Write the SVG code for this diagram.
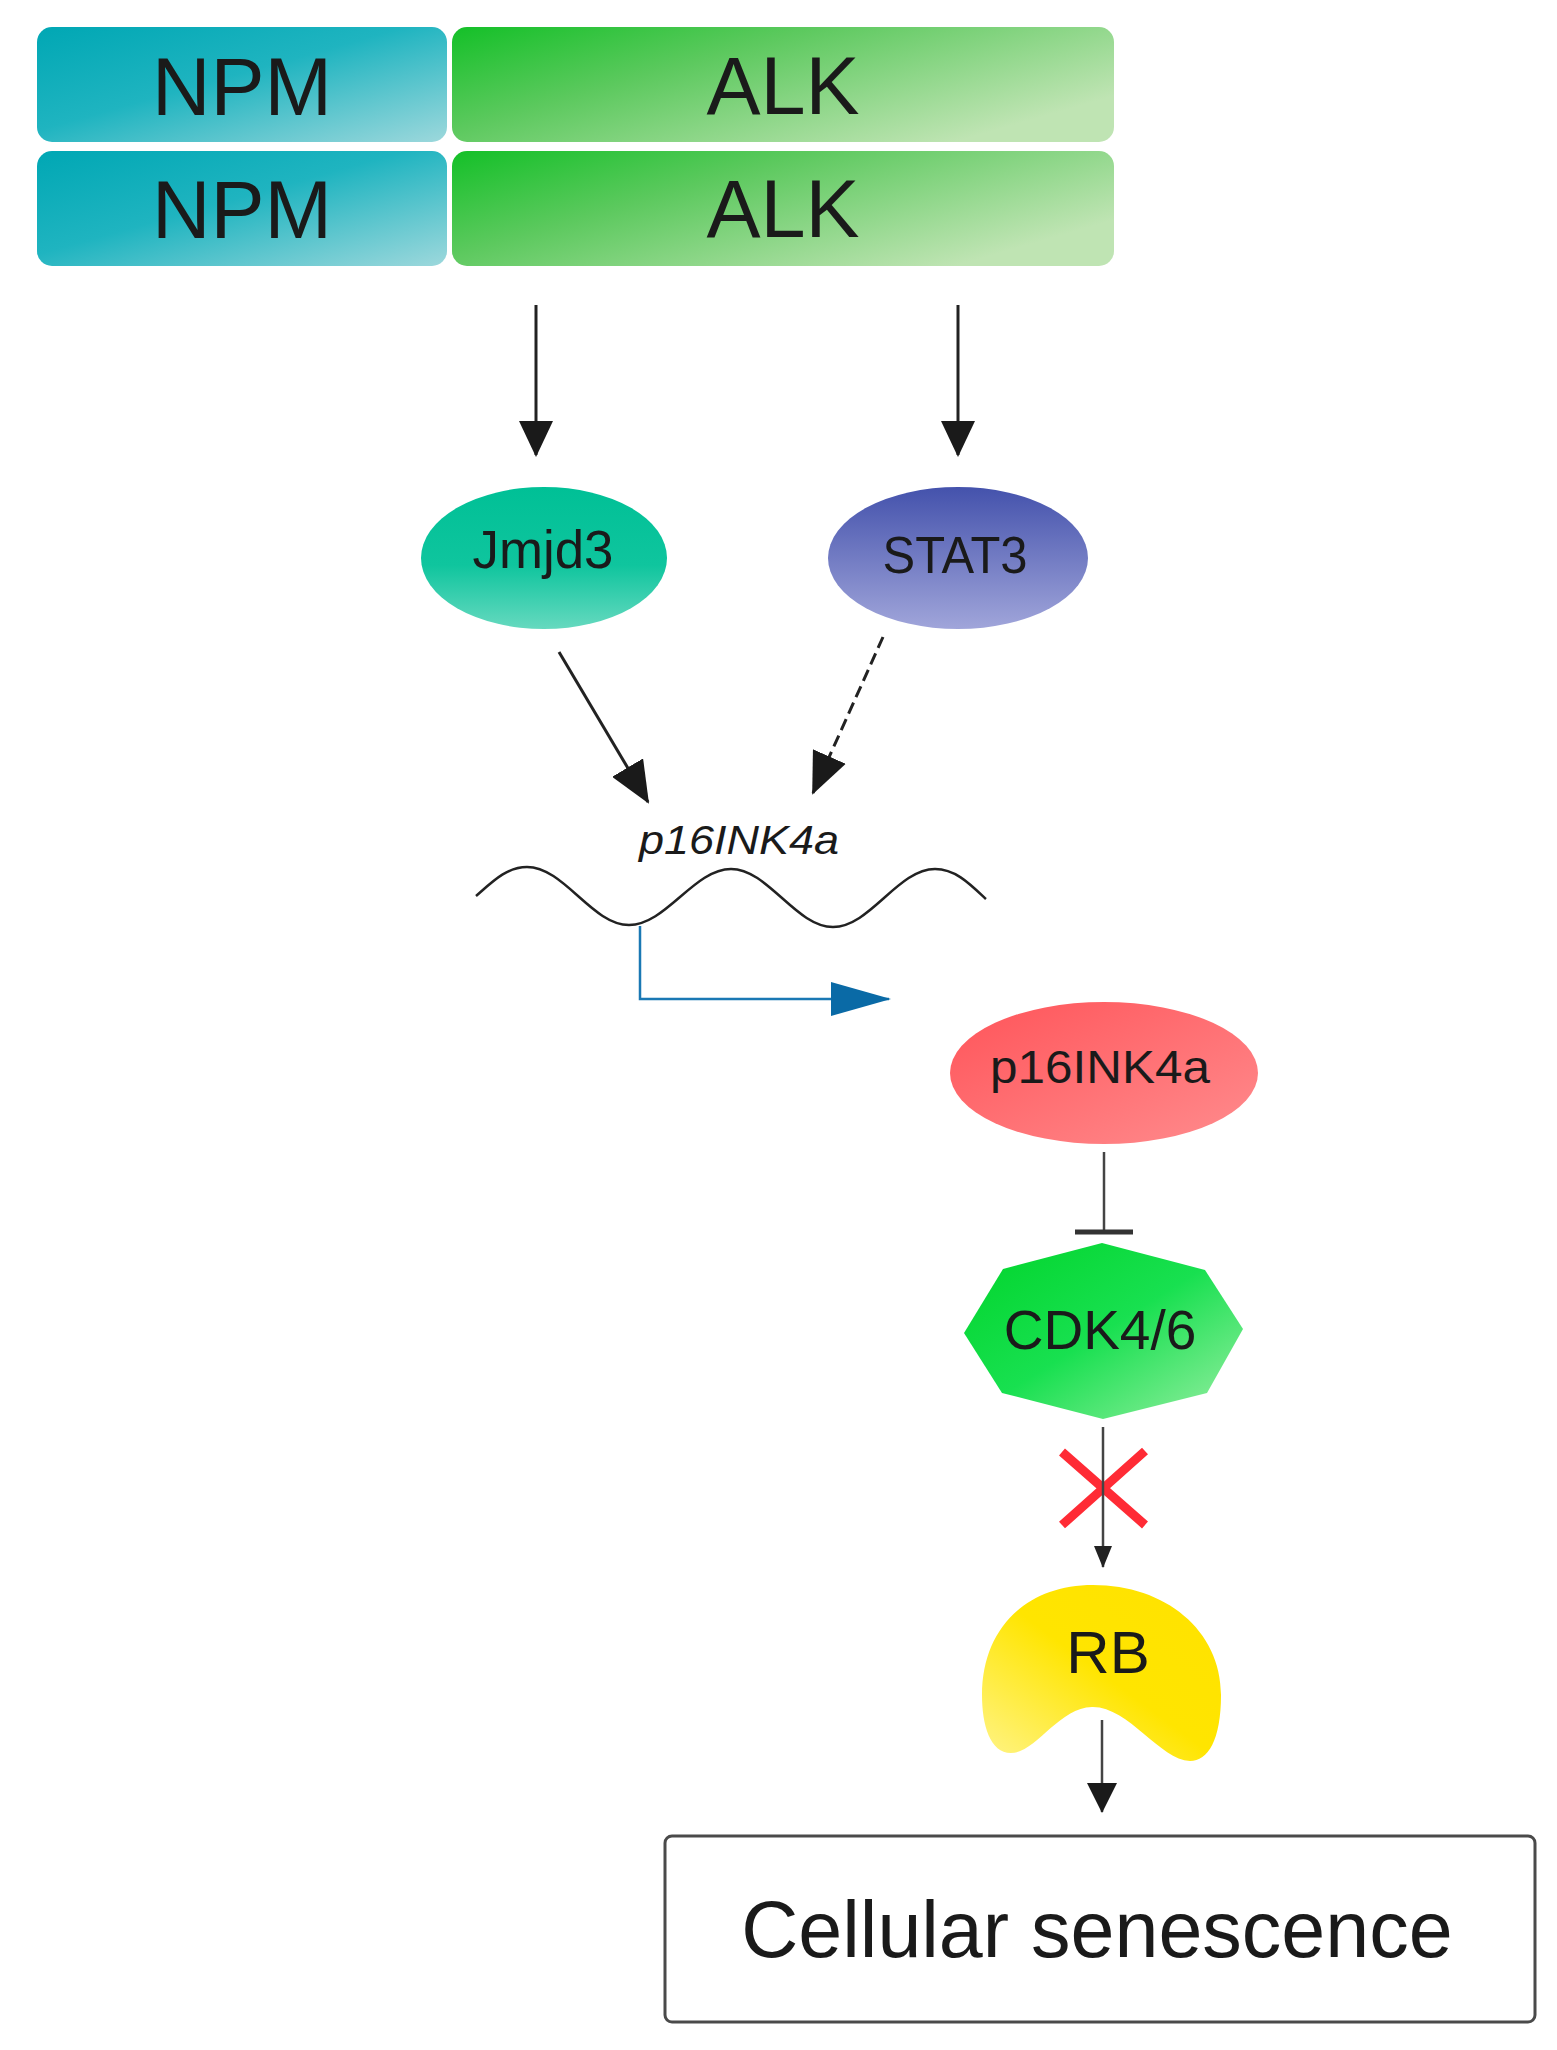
<svg xmlns="http://www.w3.org/2000/svg" width="1557" height="2050" viewBox="0 0 1557 2050">
<style>
.lbl{font-family:"Liberation Sans",Arial,sans-serif;fill:#1a1a1a;text-anchor:middle}
.ln{stroke:#222;stroke-width:3;fill:none}
.ln2{stroke:#444;stroke-width:2.5;fill:none}
</style>
<defs>
<linearGradient id="gNPM" x1="0" y1="0" x2="1" y2="1">
<stop offset="0" stop-color="#00a7b4"/><stop offset="0.45" stop-color="#1fb4c0"/><stop offset="1" stop-color="#9dd8dc"/>
</linearGradient>
<linearGradient id="gALK" x1="0" y1="0" x2="1" y2="0.6">
<stop offset="0" stop-color="#14c028"/><stop offset="0.4" stop-color="#5cc95e"/><stop offset="1" stop-color="#bfe4b3"/>
</linearGradient>
<linearGradient id="gJ" x1="0" y1="0" x2="0" y2="1">
<stop offset="0" stop-color="#00c096"/><stop offset="0.55" stop-color="#0fc59e"/><stop offset="1" stop-color="#66d9bf"/>
</linearGradient>
<linearGradient id="gS" x1="0" y1="0" x2="0" y2="1">
<stop offset="0" stop-color="#4452ac"/><stop offset="1" stop-color="#a0a5da"/>
</linearGradient>
<linearGradient id="gP" x1="0" y1="0" x2="1" y2="1">
<stop offset="0" stop-color="#ff5459"/><stop offset="1" stop-color="#ff8c8e"/>
</linearGradient>
<linearGradient id="gC" x1="0" y1="0" x2="1" y2="1">
<stop offset="0" stop-color="#00d42a"/><stop offset="0.5" stop-color="#18e050"/><stop offset="1" stop-color="#9aeea4"/>
</linearGradient>
<linearGradient id="gR" x1="1" y1="0" x2="0" y2="1">
<stop offset="0" stop-color="#ffe200"/><stop offset="0.5" stop-color="#ffe500"/><stop offset="1" stop-color="#fff48a"/>
</linearGradient>
<marker id="aL" markerUnits="userSpaceOnUse" viewBox="0 0 36 34" refX="34" refY="17" markerWidth="36" markerHeight="34" orient="auto">
<path d="M0,0 L36,17 L0,34 Z" fill="#1a1a1a"/>
</marker>
<marker id="aD" markerUnits="userSpaceOnUse" viewBox="0 0 42 36" refX="40" refY="18" markerWidth="42" markerHeight="36" orient="auto">
<path d="M0,0 L42,18 L0,36 Z" fill="#1a1a1a"/>
</marker>
<marker id="aS" markerUnits="userSpaceOnUse" viewBox="0 0 22 18" refX="21" refY="9" markerWidth="22" markerHeight="18" orient="auto">
<path d="M0,0 L22,9 L0,18 Z" fill="#222"/>
</marker>
<marker id="aM" markerUnits="userSpaceOnUse" viewBox="0 0 30 30" refX="29" refY="15" markerWidth="30" markerHeight="30" orient="auto">
<path d="M0,0 L30,15 L0,30 Z" fill="#1a1a1a"/>
</marker>
<marker id="aB" markerUnits="userSpaceOnUse" viewBox="0 0 60 34" refX="58" refY="17" markerWidth="60" markerHeight="34" orient="auto">
<path d="M0,0 L60,17 L0,34 Z" fill="#0a6aa6"/>
</marker>
</defs>
<rect width="1557" height="2050" fill="#fff"/>

<g id="npm1"><rect x="37" y="27" width="410" height="115" rx="15" fill="url(#gNPM)"/><text class="lbl" x="242" y="115" font-size="81">NPM</text></g>
<g id="alk1"><rect x="452" y="27" width="662" height="115" rx="15" fill="url(#gALK)"/><text class="lbl" x="783" y="114" font-size="81">ALK</text></g>
<g id="npm2"><rect x="37" y="151" width="410" height="115" rx="15" fill="url(#gNPM)"/><text class="lbl" x="242" y="238" font-size="81">NPM</text></g>
<g id="alk2"><rect x="452" y="151" width="662" height="115" rx="15" fill="url(#gALK)"/><text class="lbl" x="783" y="237" font-size="81">ALK</text></g>

<g id="jmjd3"><ellipse cx="544" cy="558" rx="123" ry="71" fill="url(#gJ)"/><text class="lbl" x="543" y="568" font-size="54" textLength="141" lengthAdjust="spacingAndGlyphs">Jmjd3</text></g>
<g id="stat3"><ellipse cx="958" cy="558" rx="130" ry="71" fill="url(#gS)"/><text class="lbl" x="955" y="573" font-size="52" textLength="145" lengthAdjust="spacingAndGlyphs">STAT3</text></g>

<g id="gene">
<text class="lbl" x="739" y="854" font-size="40" font-style="italic" fill="#222" textLength="200" lengthAdjust="spacingAndGlyphs">p16INK4a</text>
<path d="M476 896 C493 881,507 867,527 867 C564 867,592 925,629 925 C666 925,694 869,731 869 C768 869,796 927,833 927 C870 927,898 869,935 869 C955 869,969 883,986 899" stroke="#222" stroke-width="2.5" fill="none"/>
</g>

<g id="p16"><ellipse cx="1104" cy="1073" rx="154" ry="71" fill="url(#gP)"/><text class="lbl" x="1100" y="1083" font-size="46" textLength="220" lengthAdjust="spacingAndGlyphs">p16INK4a</text></g>

<g id="cdk"><polygon points="1102,1243 1205,1270 1243,1329 1207,1393 1103,1419 1002,1393 964,1333 1003,1269" fill="url(#gC)"/><text class="lbl" x="1100" y="1349" font-size="55">CDK4/6</text></g>

<g id="rb"><path d="M1093 1585 C1165 1585,1221 1630,1221 1695 C1221 1740,1208 1761,1190 1761 C1160 1760,1128 1706,1092 1707 C1058 1708,1036 1753,1011 1753 C990 1753,982 1725,982 1695 C982 1630,1025 1585,1093 1585 Z" fill="url(#gR)"/><text class="lbl" x="1108" y="1673" font-size="60">RB</text></g>

<g id="senescence"><rect x="665" y="1836" width="870" height="186" rx="7" fill="#fff" stroke="#4a4a4a" stroke-width="3"/><text class="lbl" x="1097" y="1957" font-size="79">Cellular senescence</text></g>

<g id="block"><path d="M1062 1452 L1145 1525 M1145 1451 L1062 1525" stroke="#ff2b35" stroke-width="9" fill="none"/></g>

<g id="connectors">
<line class="ln" x1="536" y1="305" x2="536" y2="455" marker-end="url(#aL)"/>
<line class="ln" x1="958" y1="305" x2="958" y2="455" marker-end="url(#aL)"/>
<line class="ln" x1="559" y1="652" x2="648" y2="802" marker-end="url(#aD)"/>
<line class="ln" x1="883" y1="637" x2="813" y2="793" stroke-width="4.5" stroke-dasharray="12 6" marker-end="url(#aD)"/>
<polyline points="640,926 640,999 889,999" stroke="#1a78b4" stroke-width="2.5" fill="none" marker-end="url(#aB)"/>
<line class="ln2" x1="1104" y1="1152" x2="1104" y2="1232" stroke-width="3"/>
<line x1="1075" y1="1232" x2="1133" y2="1232" stroke="#333" stroke-width="5"/>
<line class="ln2" x1="1103" y1="1427" x2="1103" y2="1567" marker-end="url(#aS)"/>
<line class="ln2" x1="1102" y1="1720" x2="1102" y2="1812" marker-end="url(#aM)"/>
</g>
</svg>
